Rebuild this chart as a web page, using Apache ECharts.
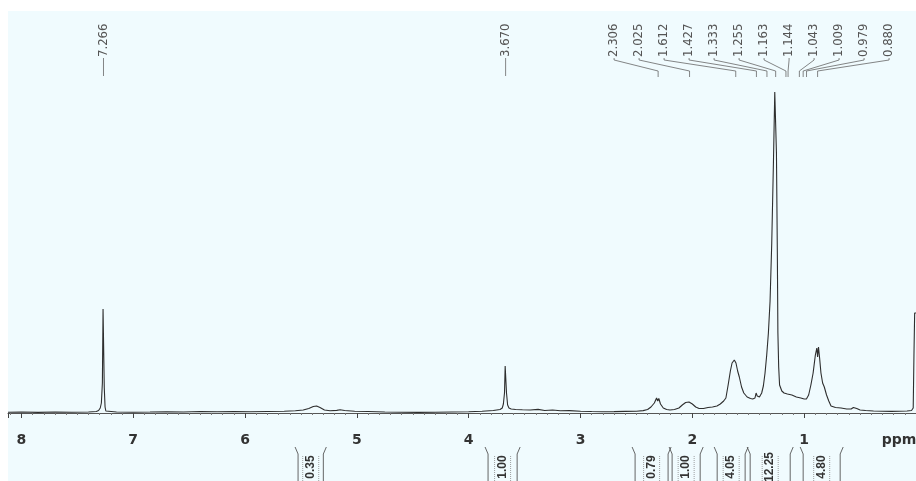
<!DOCTYPE html>
<html>
<head>
<meta charset="utf-8">
<script src="https://cdn.jsdelivr.net/npm/echarts@6/dist/echarts.min.js"></script>
<style>
  html, body { margin: 0; padding: 0; background: #fff; }
  #spectre { width: 916px; height: 481px; }
</style>
</head>
<body>
<div id="spectre"></div>
<script>
// Spectre RMN 1H : [ppm, intensité]
const spectre = [
  [8.12, 0.8], [8.0, 1], [7.85, 0.6], [7.7, 1], [7.55, 0.7], [7.4, 1], [7.33, 1.5],
  [7.31, 2.5], [7.295, 5], [7.285, 10], [7.276, 30], [7.27, 104], [7.264, 104],
  [7.259, 25], [7.252, 6], [7.245, 2], [7.23, 0.5], [7.15, 1], [7.0, 0.8], [6.85, 1],
  [6.7, 1.3], [6.55, 1], [6.4, 1.5], [6.25, 1.2], [6.1, 1.4], [5.95, 1.2], [5.8, 1.5],
  [5.65, 1.8], [5.55, 2.2], [5.48, 3], [5.43, 4.5], [5.39, 6.5], [5.36, 7], [5.33, 5.5],
  [5.29, 3], [5.24, 2.3], [5.18, 2.6], [5.15, 3.2], [5.11, 2.5], [5.02, 1.8], [4.9, 1.5],
  [4.75, 1], [4.6, 0.8], [4.45, 0.6], [4.3, 0.8], [4.15, 1], [4.0, 1.2], [3.88, 1.8],
  [3.78, 2.5], [3.72, 3.5], [3.7, 5], [3.69, 9], [3.68, 20], [3.674, 47], [3.668, 47],
  [3.662, 20], [3.652, 8], [3.64, 5], [3.62, 4], [3.58, 3.5], [3.52, 3.2], [3.45, 3],
  [3.38, 3.6], [3.32, 2.5], [3.25, 3], [3.18, 2.2], [3.1, 2.4], [3.0, 1.8], [2.9, 1.5],
  [2.8, 1.3], [2.7, 1.4], [2.6, 1.6], [2.5, 1.8], [2.44, 2.4], [2.4, 3.5], [2.37, 6],
  [2.34, 10], [2.32, 15], [2.31, 12], [2.3, 14.5], [2.285, 9], [2.26, 5], [2.23, 3.5],
  [2.2, 3], [2.16, 3.5], [2.12, 5], [2.09, 8], [2.06, 10.5], [2.03, 11], [2.0, 9],
  [1.97, 6], [1.94, 4.5], [1.9, 4.5], [1.86, 5.5], [1.82, 6], [1.78, 7], [1.75, 9],
  [1.72, 12], [1.7, 15], [1.68, 28], [1.66, 42], [1.645, 50], [1.625, 53], [1.61, 50],
  [1.595, 42], [1.58, 36], [1.56, 26], [1.54, 20], [1.51, 16], [1.48, 14.5], [1.46, 14],
  [1.44, 15], [1.43, 20], [1.42, 17], [1.4, 16], [1.38, 20], [1.365, 27], [1.35, 40],
  [1.335, 58], [1.32, 80], [1.305, 112], [1.29, 170], [1.275, 250], [1.263, 321],
  [1.255, 321], [1.248, 260], [1.24, 160], [1.235, 80], [1.228, 46], [1.22, 28],
  [1.2, 22], [1.18, 20], [1.15, 19], [1.11, 18], [1.07, 16], [1.03, 15], [1.0, 14],
  [0.98, 14], [0.96, 18], [0.94, 28], [0.92, 40], [0.9, 58], [0.887, 65], [0.88, 56],
  [0.872, 66], [0.862, 55], [0.85, 40], [0.835, 30], [0.82, 26], [0.8, 18], [0.78, 12],
  [0.76, 7], [0.72, 5.5], [0.67, 5], [0.62, 4], [0.58, 4], [0.56, 5.5], [0.545, 6],
  [0.53, 4.5], [0.5, 3], [0.45, 2.5], [0.38, 2], [0.3, 1.8], [0.22, 1.6], [0.15, 1.8],
  [0.08, 2], [0.04, 2.5], [0.025, 5], [0.018, 60], [0.012, 100], [0.0, 100],
];

// Déplacements chimiques annotés en haut
const deplacements = [
  7.266, 3.67, 2.306, 2.025, 1.612, 1.427, 1.333, 1.255, 1.163, 1.144, 1.043, 1.009,
  0.979, 0.88,
];
const etiquettesDeplacements = [
  "7.266", "3.670", "2.306", "2.025", "1.612", "1.427", "1.333", "1.255", "1.163",
  "1.144", "1.043", "1.009", "0.979", "0.880",
];

// Intégrales : début, fin (ppm) et valeur
const integralesDebut = [5.526, 3.827, 2.512, 2.181, 1.778, 1.483, 1.009];
const integralesFin = [5.3, 3.567, 2.217, 1.93, 1.528, 1.125, 0.678];
const integralesValeurs = ["0.35", "1.00", "0.79", "1.00", "4.05", "12.25", "4.80"];

const axeX = { min: 0, max: 8.12, interval: 1 };

/**
 * Étiquettes verticales des pics avec leurs traits de rappel
 */
function renderPic(params, api) {
  const i = params.dataIndex;
  const xPic = api.coord([api.value(0), 0])[0];
  let xLabel = xPic;
  let points = [[xPic, 58], [xPic, 76]];
  if (i >= 2) {
    // groupe de droite : étiquettes espacées régulièrement
    xLabel = api.coord([2.7, 0])[0] + (i - 2) * 25;
    points = [[xLabel, 58], [xLabel, 60], [xPic, 71], [xPic, 77]];
  }
  return {
    type: "group",
    children: [
      {
        type: "polyline",
        shape: { points: points },
        style: { stroke: "#666", lineWidth: 0.8, fill: null },
      },
      {
        type: "text",
        x: xLabel,
        y: 57,
        rotation: Math.PI / 2,
        style: {
          text: etiquettesDeplacements[i],
          fill: "#555",
          fontSize: 13,
          fontFamily: "'Liberation Sans Narrow', 'DejaVu Sans Condensed', 'Liberation Sans'",
          align: "left",
          verticalAlign: "middle",
        },
      },
    ],
  };
}

/**
 * Crochets d'intégration sous l'axe
 */
function renderIntegrale(params, api) {
  const xa = api.coord([api.value(0), 0])[0];
  const xb = api.coord([api.value(1), 0])[0];
  const xc = (xa + xb) / 2;
  const trait = { stroke: "#555", lineWidth: 0.9, fill: null };
  const pointille = { stroke: "#888", lineWidth: 0.8, lineDash: [1, 1], fill: null };
  return {
    type: "group",
    children: [
      { type: "polyline", shape: { points: [[xa - 3, 447], [xa, 454], [xa, 481]] }, style: trait },
      { type: "polyline", shape: { points: [[xb + 3, 447], [xb, 454], [xb, 481]] }, style: trait },
      { type: "line", shape: { x1: xc - 8, y1: 456, x2: xc - 8, y2: 481 }, style: pointille },
      { type: "line", shape: { x1: xc + 8, y1: 456, x2: xc + 8, y2: 481 }, style: pointille },
      {
        type: "text",
        x: xc,
        y: 467,
        rotation: Math.PI / 2,
        style: {
          text: integralesValeurs[params.dataIndex],
          fill: "#333",
          fontSize: 12,
          fontWeight: "bold",
          fontFamily: "'Liberation Sans Narrow', 'Liberation Sans'",
          align: "center",
          verticalAlign: "middle",
        },
      },
    ],
  };
}

function create(selector) {
  const dom = document.querySelector(selector);
  const chart = echarts.init(dom, null, { renderer: "canvas" });
  chart.setOption({
    animation: false,
    backgroundColor: "#ffffff",
    graphic: [
      {
        type: "rect",
        z: -10,
        silent: true,
        shape: { x: 8, y: 11, width: 908, height: 470 },
        style: { fill: "#f0fbfe" },
      },
    ],
    grid: { left: 8, right: 0, top: 80, bottom: 57, containLabel: false, outerBoundsMode: "none" },
    xAxis: {
      type: "value",
      inverse: true,
      min: axeX.min,
      max: axeX.max,
      interval: axeX.interval,
      axisLine: { lineStyle: { color: "#555", width: 1 } },
      axisTick: { show: true, length: 5, lineStyle: { color: "#444" } },
      minorTick: { show: true, splitNumber: 10, length: 2, lineStyle: { color: "#777" } },
      splitLine: { show: false },
      axisLabel: {
        margin: 9,
        color: "#333",
        fontSize: 14,
        fontWeight: "bold",
        fontFamily: "'DejaVu Sans', sans-serif",
        formatter: function (v) {
          if (v === 0) return "{p|ppm}";
          return Number.isInteger(v) ? String(v) : "";
        },
        rich: { p: { fontSize: 14, fontWeight: "bold", color: "#333", padding: [0, 34, 0, 0] } },
      },
    },
    yAxis: { type: "value", show: false, min: -11, max: 333 },
    series: [
      {
        type: "line",
        data: spectre,
        showSymbol: false,
        sampling: null,
        lineStyle: { color: "#2e2e2e", width: 1.1 },
        z: 3,
      },
      {
        type: "custom",
        clip: false,
        silent: true,
        data: deplacements.map((d) => [d, 0]),
        renderItem: renderPic,
      },
      {
        type: "custom",
        clip: false,
        silent: true,
        data: integralesDebut.map((d, i) => [d, integralesFin[i]]),
        renderItem: renderIntegrale,
      },
    ],
  });
  return chart;
}

create("#spectre");
</script>
</body>
</html>
